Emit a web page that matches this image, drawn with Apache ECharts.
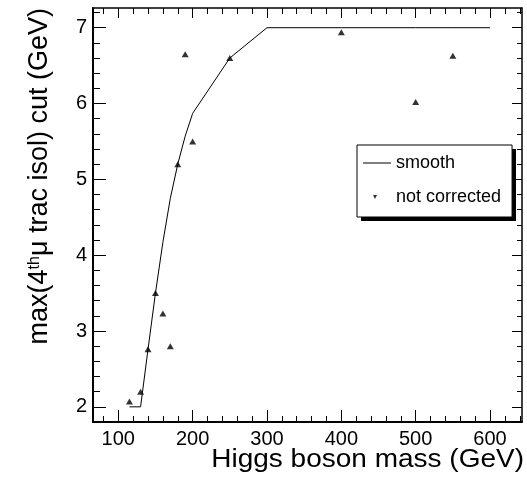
<!DOCTYPE html>
<html>
<head>
<meta charset="utf-8">
<script src="https://cdn.jsdelivr.net/npm/echarts@6/dist/echarts.min.js"></script>
<style>
html,body{margin:0;padding:0;background:#fff;}
#chart{width:527px;height:480px;}
</style>
</head>
<body>
<div id="chart"></div>
<script>
// ---- data ----
var smoothMass = [115, 130, 140, 150, 160, 170, 180, 190, 200, 250, 300, 400, 500, 550, 600];
var smoothCut  = [2.0, 2.0, 2.76, 3.5, 4.17, 4.75, 5.2, 5.57, 5.87, 6.6, 7.0, 7.0, 7.0, 7.0, 7.0];
var pointMass  = [115, 130, 140, 150, 160, 170, 180, 190, 200, 250, 400, 500, 550];
var pointCut   = [2.07, 2.2, 2.76, 3.5, 3.23, 2.8, 5.2, 6.65, 5.5, 6.6, 6.94, 6.02, 6.63];
var xMajor = [100, 200, 300, 400, 500, 600];
var xMinor = [80, 120, 140, 160, 180, 220, 240, 260, 280, 320, 340, 360, 380, 420, 440, 460, 480, 520, 540, 560, 580, 620, 640];
var yMajor = [2, 3, 4, 5, 6, 7];
var yMinor = [2.2, 2.4, 2.6, 2.8, 3.2, 3.4, 3.6, 3.8, 4.2, 4.4, 4.6, 4.8, 5.2, 5.4, 5.6, 5.8, 6.2, 6.4, 6.6, 6.8, 7.2];
var xTitle = 'Higgs boson mass (GeV)';
var seriesNames = ['smooth', 'not corrected'];

var FONT = 'Liberation Sans, Arial, Helvetica, sans-serif';
var X_MIN = 66, X_MAX = 643, Y_MIN = 1.8, Y_MAX = 7.26;

function zip(a, b) { return a.map(function (v, i) { return [v, b[i]]; }); }

function xAxisDef(pos, ticks, len, lineW, labels) {
  return {
    type: 'value', position: pos, min: X_MIN, max: X_MAX, gridIndex: 0,
    axisLine: { show: lineW > 0, onZero: false, lineStyle: { color: '#000', width: lineW } },
    axisTick: { show: true, inside: true, length: len, customValues: ticks, lineStyle: { color: '#000', width: 1 } },
    axisLabel: labels ? { show: true, customValues: ticks, fontSize: 20, fontFamily: FONT, color: '#000', margin: 7 } : { show: false },
    splitLine: { show: false }
  };
}
function yAxisDef(pos, ticks, len, lineW, labels) {
  return {
    type: 'value', position: pos, min: Y_MIN, max: Y_MAX, gridIndex: 0,
    axisLine: { show: lineW > 0, onZero: false, lineStyle: { color: '#000', width: lineW } },
    axisTick: { show: true, inside: true, length: len, customValues: ticks, lineStyle: { color: '#000', width: 1 } },
    axisLabel: labels ? { show: true, customValues: ticks, fontSize: 20, fontFamily: FONT, color: '#000', margin: 6 } : { show: false },
    splitLine: { show: false }
  };
}

var chart = echarts.init(document.getElementById('chart'), null, { renderer: 'canvas' });
chart.setOption({
  animation: false,
  backgroundColor: '#fff',
  grid: { left: 93, right: 5, top: 8, bottom: 58, containLabel: false },
  xAxis: [
    xAxisDef('bottom', xMajor, 12, 2, true),
    xAxisDef('bottom', xMinor, 6, 0, false),
    xAxisDef('top', xMajor, 10, 1.5, false),
    xAxisDef('top', xMinor, 6, 0, false)
  ],
  yAxis: [
    yAxisDef('left', yMajor, 13, 2, true),
    yAxisDef('left', yMinor, 7, 0, false),
    yAxisDef('right', yMajor, 10, 1.5, false),
    yAxisDef('right', yMinor, 5, 0, false)
  ],
  legend: {
    orient: 'vertical',
    left: 357, top: 145, z: 10,
    padding: [9, 11, 11, 6],
    itemWidth: 28, itemHeight: 14, itemGap: 16,
    backgroundColor: '#fff',
    borderColor: '#000', borderWidth: 1,
    textStyle: { fontSize: 18, fontFamily: FONT, color: '#000' },
    data: [
      { name: seriesNames[0], icon: 'path://M0,0M28,14M0,6.5L28,6.5L28,7.5L0,7.5Z' },
      { name: seriesNames[1], icon: 'path://M0,0M28,14M10,5L14,5L12,9Z' }
    ]
  },
  graphic: [
    {
      // legend drop shadow
      type: 'rect', z: 1, silent: true,
      shape: { x: 361, y: 149, width: 155, height: 72 },
      style: { fill: '#000' }
    },
    {
      type: 'text', x: 524, y: 460.5, scaleX: 1.12,
      style: { text: xTitle, font: '25px ' + FONT, fill: '#000', align: 'right', verticalAlign: 'middle' }
    },
    {
      type: 'text', x: 40, y: 8, rotation: Math.PI / 2,
      style: {
        text: '{a|max(4}{s|th}{a|\u03bc trac isol) cut (GeV)}',
        align: 'right', verticalAlign: 'middle', fill: '#000',
        rich: {
          a: { fontSize: 27, fontFamily: FONT, fill: '#000' },
          s: { fontSize: 16, fontFamily: FONT, fill: '#000', verticalAlign: 'top' }
        }
      }
    }
  ],
  series: [
    {
      name: seriesNames[0], type: 'line', xAxisIndex: 0, yAxisIndex: 0,
      data: zip(smoothMass, smoothCut),
      symbol: 'none', color: '#000',
      lineStyle: { color: '#000', width: 1 }
    },
    {
      name: seriesNames[1], type: 'scatter', xAxisIndex: 0, yAxisIndex: 0,
      data: zip(pointMass, pointCut),
      symbol: 'triangle', symbolSize: [7, 6], color: '#000',
      itemStyle: { color: '#000' }
    }
  ]
});
</script>
</body>
</html>
